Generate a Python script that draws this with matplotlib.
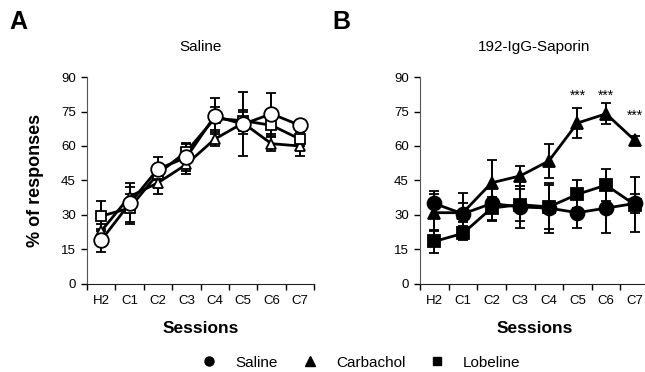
import numpy as np
import matplotlib.pyplot as plt
from matplotlib.lines import Line2D

plt.rcParams['font.family'] = ['Liberation Sans', 'DejaVu Sans']

sessions = ['H2', 'C1', 'C2', 'C3', 'C4', 'C5', 'C6', 'C7']

# Painel A - Saline
sal_a = [19, 35, 50, 55, 73, 69.5, 74, 69]
sal_a_err = [5, 9, 5, 6, 8, 14, 9, 2]
carb_a = [23, 38, 44, 52, 63, 70, 61, 60]
carb_a_err = [3, 4, 5, 4, 3, 5, 3, 4.5]
lob_a = [29.5, 33, 48, 57.5, 72, 71, 69, 63]
lob_a_err = [6.5, 6, 3, 4, 5, 4.5, 4.5, 3]

# Painel B - 192-IgG-Saporin
sal_b = [35, 30.5, 35, 33.5, 33, 31, 33, 35]
sal_b_err = [5.5, 9, 7.5, 9, 11, 6.5, 11, 4]
carb_b = [31, 31, 44, 47, 53.5, 70, 74, 62.5]
carb_b_err = [8, 4, 10, 4.5, 7.5, 6.5, 4.5, 2]
lob_b = [18.5, 22, 33, 34.5, 33.5, 39, 43, 34.5]
lob_b_err = [5, 3, 5, 7, 9.5, 6, 7, 12]

# asteriscos (sessao, altura)
stars_at = ['C5', 'C6', 'C7']
stars_y = [79, 79, 70]

fig = plt.figure(figsize=(6.45, 3.72), dpi=100)
ax_a = fig.add_axes([0.1349, 0.2366, 0.352, 0.5564])
ax_b = fig.add_axes([0.6512, 0.2366, 0.355, 0.5564])

x = np.arange(len(sessions))


def serie(ax, y, err, marker, ms, face):
    ax.errorbar(x, y, yerr=err, color='black', lw=2, elinewidth=1.4,
                capsize=3.5, capthick=1.4, marker=marker, ms=ms,
                mfc=face, mec='black', mew=1.3, zorder=3)


def eixo(ax, titulo):
    ax.set_xlim(-0.5, 7.5)
    ax.set_ylim(0, 90)
    ax.set_yticks([0, 15, 30, 45, 60, 75, 90])
    ax.set_xticks(x)
    ax.set_xticklabels(sessions)
    ax.set_xticks(np.arange(-0.5, 8, 1), minor=True)
    ax.tick_params(axis='x', which='major', length=0, pad=8, labelsize=9.5)
    ax.tick_params(axis='x', which='minor', length=4, width=1, direction='out')
    ax.tick_params(axis='y', length=4, width=1, labelsize=9.5, pad=4)
    for s in ['top', 'right']:
        ax.spines[s].set_visible(False)
    ax.spines['left'].set_color('#555555')
    ax.spines['bottom'].set_color('#222222')
    ax.set_title(titulo, fontsize=11, pad=19)
    ax.set_xlabel('Sessions', fontsize=12.5, fontweight='bold', labelpad=10)


serie(ax_a, carb_a, carb_a_err, '^', 7.5, 'white')
serie(ax_a, lob_a, lob_a_err, 's', 7.5, 'white')
serie(ax_a, sal_a, sal_a_err, 'o', 10.5, 'white')
eixo(ax_a, 'Saline')
ax_a.set_ylabel('% of responses', fontsize=13, fontweight='bold', labelpad=12)

serie(ax_b, carb_b, carb_b_err, '^', 8, 'black')
serie(ax_b, lob_b, lob_b_err, 's', 8, 'black')
serie(ax_b, sal_b, sal_b_err, 'o', 10, 'black')
eixo(ax_b, '192-IgG-Saporin')

for s, yy in zip(stars_at, stars_y):
    ax_b.text(sessions.index(s), yy, '***', ha='center', va='bottom',
              fontsize=10, clip_on=False)

fig.text(0.015, 0.94, 'A', fontsize=18, fontweight='bold', va='center')
fig.text(0.515, 0.94, 'B', fontsize=18, fontweight='bold', va='center')

handles = [Line2D([], [], ls='none', marker='o', color='black', ms=6.5),
           Line2D([], [], ls='none', marker='^', color='black', ms=6.5),
           Line2D([], [], ls='none', marker='s', color='black', ms=6)]
fig.legend(handles, ['Saline', 'Carbachol', 'Lobeline'], loc='center',
           bbox_to_anchor=(0.56, 0.025), ncol=3, frameon=False, fontsize=11,
           handlelength=1, handletextpad=1.2, columnspacing=1.6)

plt.savefig('out.png', dpi=100)
plt.close()
